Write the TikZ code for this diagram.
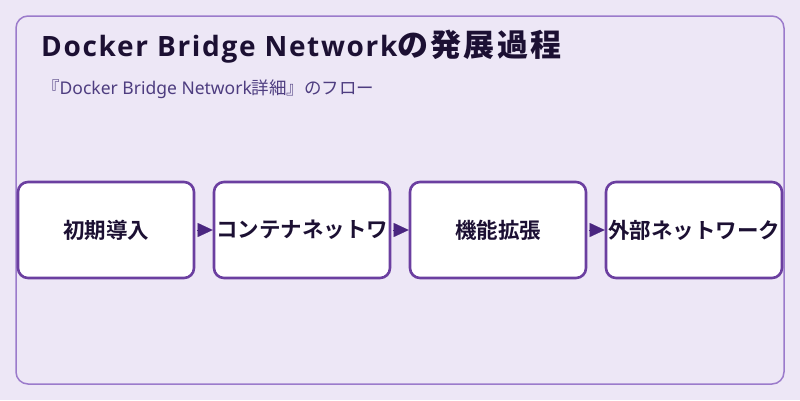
\documentclass[tikz,border=0pt]{standalone}
\usepackage{fontspec}
\usepackage{tikz}
\usetikzlibrary{arrows.meta,positioning}
\setmainfont{Noto Sans CJK JP}
\newfontfamily\jpbold{Noto Sans CJK JP Bold}[LetterSpace=7]
\newfontfamily\jpstage{Noto Sans CJK JP Bold}
\newfontfamily\latreg{Noto Sans}
\newfontfamily\latbold{Open Sans}[LetterSpace=6]
\definecolor{bgc}{HTML}{EDE7F6}
\definecolor{framec}{HTML}{9B7BCB}
\definecolor{boxc}{HTML}{6B3FA0}
\definecolor{arrc}{HTML}{4A2680}
\definecolor{titlec}{HTML}{1C1033}
\definecolor{subc}{HTML}{4E3D80}

\begin{document}
\begin{tikzpicture}[x=1pt,y=-1pt,>=Latex,
  stage/.style={draw=boxc,line width=2.6pt,rounded corners=10pt,fill=white,
    minimum width=176pt,minimum height=96pt,inner sep=0pt,
    font=\jpstage\fontsize{21.5}{24}\selectfont,text=titlec},
  arr/.style={-{Triangle[length=15pt,width=14pt]},line width=0.1pt,draw=arrc,fill=arrc,
    shorten <=1.5pt}]
  \fill[bgc] (0,0) rectangle (800,400);
  \useasboundingbox (0,0) rectangle (800,400);
  \draw[framec,line width=1.5pt,rounded corners=12pt] (16,16) rectangle (784,384);
  \node[anchor=base west,inner sep=0pt,text=titlec]
    (title) at (41,56) {\latbold\bfseries\fontsize{28}{32}\selectfont Docker Bridge Network%
    \jpbold\fontsize{31}{32}\selectfont の発展過程};
  \node[anchor=base west,inner sep=0pt,text=subc]
    (sub) at (42,94) {\fontsize{17.5}{20}\selectfont 『\latreg Docker Bridge Network\rmfamily 詳細』のフロー};
  \node[stage] (init) at (106,230) {初期導入};
  \node[stage,right=17.4pt of init] (cont) {コンテナネットワ};
  \node[stage,right=17.4pt of cont] (feat) {機能拡張};
  \node[stage,right=17.4pt of feat] (ext) {外部ネットワーク};
  \draw[arr] (init) -- (cont);
  \draw[arr] (cont) -- (feat);
  \draw[arr] (feat) -- (ext);
\end{tikzpicture}
\end{document}
